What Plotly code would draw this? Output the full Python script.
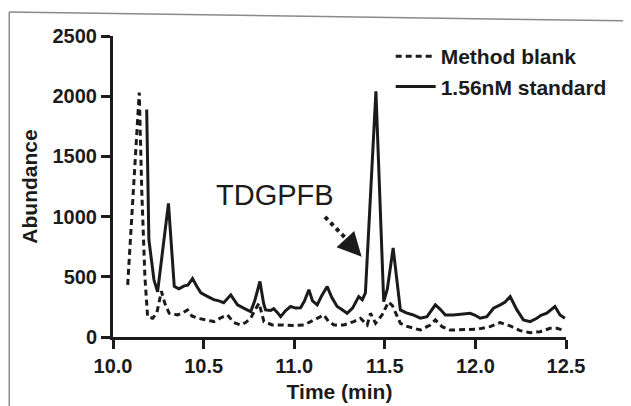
import plotly.graph_objects as go

# ---- data ----
std_time = [10.186, 10.198, 10.226, 10.246, 10.306, 10.338, 10.363, 10.393, 10.413, 10.439,
            10.463, 10.485, 10.518, 10.556, 10.584, 10.611, 10.650, 10.687, 10.721, 10.760,
            10.782, 10.811, 10.831, 10.842, 10.870, 10.887, 10.909, 10.925, 10.953, 10.980,
            11.008, 11.035, 11.057, 11.081, 11.101, 11.127, 11.151, 11.182, 11.207, 11.237,
            11.261, 11.292, 11.322, 11.356, 11.376, 11.393, 11.451, 11.494, 11.514, 11.546,
            11.586, 11.619, 11.657, 11.696, 11.733, 11.757, 11.779, 11.806, 11.834, 11.879,
            11.927, 11.971, 11.999, 12.026, 12.063, 12.100, 12.137, 12.164, 12.192, 12.229,
            12.265, 12.302, 12.339, 12.362, 12.394, 12.417, 12.439, 12.467, 12.494]
std_abund = [1890, 808, 475, 375, 1110, 420, 400, 425, 430, 485,
             420, 367, 340, 310, 300, 285, 350, 267, 240, 211,
             300, 461, 280, 225, 220, 235, 200, 169, 220, 253,
             240, 242, 300, 392, 300, 267, 340, 419, 330, 253,
             230, 197, 240, 336, 310, 367, 2040, 294, 400, 739,
             225, 200, 183, 156, 169, 220, 267, 230, 183, 183,
             190, 197, 180, 156, 169, 239, 267, 290, 336, 225,
             142, 128, 156, 180, 197, 230, 253, 183, 156]

blank_time = [10.081, 10.145, 10.159, 10.176, 10.191, 10.219, 10.242, 10.267, 10.286, 10.310,
              10.356, 10.385, 10.411, 10.435, 10.466, 10.512, 10.558, 10.595, 10.632, 10.666,
              10.705, 10.732, 10.760, 10.782, 10.806, 10.833, 10.879, 10.943, 10.997, 11.053,
              11.108, 11.134, 11.164, 11.189, 11.219, 11.274, 11.329, 11.366, 11.403, 11.421,
              11.449, 11.485, 11.520, 11.542, 11.564, 11.586, 11.619, 11.659, 11.696, 11.733,
              11.751, 11.779, 11.816, 11.861, 11.933, 12.008, 12.081, 12.137, 12.192, 12.247,
              12.302, 12.357, 12.412, 12.449, 12.494]
blank_abund = [433, 2031, 1200, 500, 169, 156, 200, 380, 280, 197,
               183, 200, 225, 175, 156, 140, 128, 160, 183, 120,
               100, 120, 156, 220, 281, 128, 100, 100, 95, 100,
               142, 160, 183, 130, 100, 100, 128, 156, 100, 197,
               114, 183, 290, 260, 180, 114, 90, 72, 58, 86,
               100, 142, 86, 58, 58, 64, 86, 119, 92, 53,
               36, 44, 72, 72, 53]

x_ticks = [10.0, 10.5, 11.0, 11.5, 12.0, 12.5]
x_tick_labels = ["10.0", "10.5", "11.0", "11.5", "12.0", "12.5"]
y_ticks = [0, 500, 1000, 1500, 2000, 2500]

series_names = ["Method blank", "1.56nM standard"]
peak_label = "TDGPFB"

FONT = "Liberation Sans, Arial, Helvetica, sans-serif"
INK = "#1b1b1b"

fig = go.Figure()
fig.add_trace(go.Scatter(x=blank_time, y=blank_abund, mode="lines", name=series_names[0],
                         line=dict(color=INK, width=3, dash="6px,4px")))
fig.add_trace(go.Scatter(x=std_time, y=std_abund, mode="lines", name=series_names[1],
                         line=dict(color=INK, width=3)))

# dotted arrow pointing at the TDGPFB peak
fig.add_shape(type="line", xref="x", yref="y", x0=11.170, y0=997, x1=11.31, y1=780,
              line=dict(color=INK, width=4, dash="dot"))
fig.add_annotation(x=11.372, y=667, ax=11.30, ay=785, xref="x", yref="y", axref="x", ayref="y",
                   text="", showarrow=True, arrowhead=2, arrowsize=1.6, arrowwidth=3,
                   arrowcolor=INK)
fig.add_annotation(x=10.894, y=1180, xref="x", yref="y", text=peak_label, showarrow=False,
                   font=dict(family=FONT, size=29, color=INK))

# scan frame edges
for (x0, y0, x1, y1) in [(-0.229, 1.08, -0.229, -0.23), (-0.229, 1.08, 1.14, 1.05),
                         (1.135, 0.18, 1.135, -0.23)]:
    fig.add_shape(type="line", xref="paper", yref="paper", x0=x0, y0=y0, x1=x1, y1=y1,
                  line=dict(color="#8a8a8a", width=1.5))

axis_common = dict(showgrid=False, zeroline=False, showline=True, linecolor=INK, linewidth=3,
                   ticks="outside", tickcolor=INK, tickwidth=3, automargin=False,
                   tickfont=dict(family=FONT, size=20, color=INK, weight="bold"))

fig.update_xaxes(range=[10, 12.5], tickvals=x_ticks, ticktext=x_tick_labels, ticklen=9,
                 title=dict(text="Time (min)", standoff=9,
                            font=dict(family=FONT, size=21, color=INK, weight="bold")),
                 **axis_common)
fig.update_yaxes(range=[0, 2500], tickvals=y_ticks, ticklen=9,
                 title=dict(text="Abundance", standoff=10,
                            font=dict(family=FONT, size=21, color=INK, weight="bold")),
                 **axis_common)

fig.update_layout(
    width=623, height=398,
    margin=dict(l=105, r=65, t=28, b=69, autoexpand=False),
    paper_bgcolor="white", plot_bgcolor="white",
    legend=dict(x=0.613, y=1.0, xanchor="left", yanchor="top", bgcolor="rgba(0,0,0,0)",
                font=dict(family=FONT, size=21, color=INK, weight="bold"),
                tracegroupgap=0, itemwidth=40),
    showlegend=True,
)

fig.write_html("out.html")
